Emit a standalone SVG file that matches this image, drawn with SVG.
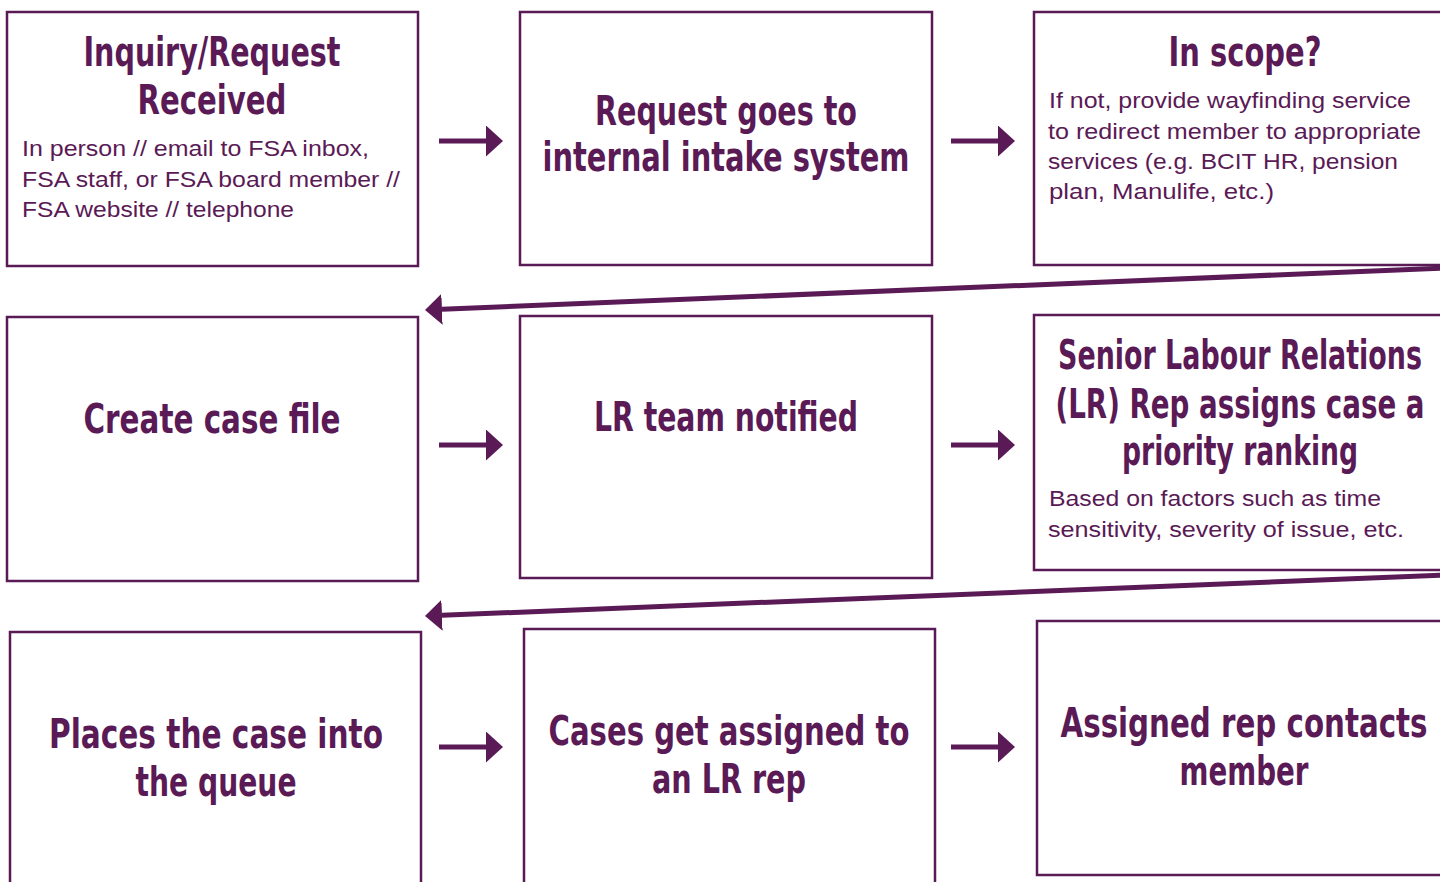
<svg xmlns="http://www.w3.org/2000/svg" width="1440" height="882" viewBox="0 0 1440 882">
<style>
.box{fill:#ffffff;stroke:#5a1a56;stroke-width:2.5}
.t{font-family:"DejaVu Sans Condensed","Liberation Sans",sans-serif;font-weight:bold;font-size:40px;fill:#5a1a56;text-anchor:middle}
.b{font-family:"Liberation Sans","DejaVu Sans Condensed",sans-serif;font-size:22px;fill:#5a1a56}
.c{stroke:#5a1a56;stroke-width:5;fill:none}
</style>
<defs>
<marker id="ah" markerUnits="userSpaceOnUse" markerWidth="18" markerHeight="31" refX="0" refY="15.5" orient="auto" viewBox="0 0 18 31">
<path d="M0,0 L17,15.5 L0,31 Z" fill="#5a1a56"/>
</marker>
</defs>
<rect width="1440" height="882" fill="#ffffff"/>
<g id="connectors">
<line class="c" x1="439" y1="141" x2="486" y2="141" marker-end="url(#ah)"/>
<line class="c" x1="951" y1="141" x2="998" y2="141" marker-end="url(#ah)"/>
<line class="c" x1="1445" y1="268" x2="442" y2="309.3" marker-end="url(#ah)"/>
<line class="c" x1="439" y1="445" x2="486" y2="445" marker-end="url(#ah)"/>
<line class="c" x1="951" y1="445" x2="998" y2="445" marker-end="url(#ah)"/>
<line class="c" x1="1445" y1="575" x2="442" y2="615.3" marker-end="url(#ah)"/>
<line class="c" x1="439" y1="747" x2="486" y2="747" marker-end="url(#ah)"/>
<line class="c" x1="951" y1="747" x2="998" y2="747" marker-end="url(#ah)"/>
</g>
<g id="n1">
<rect class="box" x="7" y="12" width="411" height="254"/>
<text class="t" x="212" y="66" textLength="257" lengthAdjust="spacingAndGlyphs">Inquiry/Request</text>
<text class="t" x="212" y="114" textLength="149" lengthAdjust="spacingAndGlyphs">Received</text>
<text class="b" x="22" y="156" textLength="347" lengthAdjust="spacingAndGlyphs">In person // email to FSA inbox,</text>
<text class="b" x="22" y="187" textLength="378" lengthAdjust="spacingAndGlyphs">FSA staff, or FSA board member //</text>
<text class="b" x="22" y="217" textLength="272" lengthAdjust="spacingAndGlyphs">FSA website // telephone</text>
</g>
<g id="n2">
<rect class="box" x="520" y="12" width="412" height="253"/>
<text class="t" x="726" y="125" textLength="262" lengthAdjust="spacingAndGlyphs">Request goes to</text>
<text class="t" x="726" y="171" textLength="367" lengthAdjust="spacingAndGlyphs">internal intake system</text>
</g>
<g id="n3">
<rect class="box" x="1034" y="12" width="420" height="253"/>
<text class="t" x="1245" y="66" textLength="153" lengthAdjust="spacingAndGlyphs">In scope?</text>
<text class="b" x="1049" y="108" textLength="362" lengthAdjust="spacingAndGlyphs">If not, provide wayfinding service</text>
<text class="b" x="1048" y="139" textLength="373" lengthAdjust="spacingAndGlyphs">to redirect member to appropriate</text>
<text class="b" x="1048" y="169" textLength="350" lengthAdjust="spacingAndGlyphs">services (e.g. BCIT HR, pension</text>
<text class="b" x="1049" y="199" textLength="225" lengthAdjust="spacingAndGlyphs">plan, Manulife, etc.)</text>
</g>
<g id="n4">
<rect class="box" x="7" y="317" width="411" height="264"/>
<text class="t" x="212" y="433" textLength="257" lengthAdjust="spacingAndGlyphs">Create case file</text>
</g>
<g id="n5">
<rect class="box" x="520" y="316" width="412" height="262"/>
<text class="t" x="726" y="431" textLength="264" lengthAdjust="spacingAndGlyphs">LR team notified</text>
</g>
<g id="n6">
<rect class="box" x="1034" y="315" width="420" height="255"/>
<text class="t" x="1240" y="369" textLength="364" lengthAdjust="spacingAndGlyphs">Senior Labour Relations</text>
<text class="t" x="1240" y="418" textLength="369" lengthAdjust="spacingAndGlyphs">(LR) Rep assigns case a</text>
<text class="t" x="1240" y="465" textLength="236" lengthAdjust="spacingAndGlyphs">priority ranking</text>
<text class="b" x="1049" y="506" textLength="332" lengthAdjust="spacingAndGlyphs">Based on factors such as time</text>
<text class="b" x="1048" y="537" textLength="356" lengthAdjust="spacingAndGlyphs">sensitivity, severity of issue, etc.</text>
</g>
<g id="n7">
<rect class="box" x="10" y="632" width="411" height="270"/>
<text class="t" x="216" y="748" textLength="334" lengthAdjust="spacingAndGlyphs">Places the case into</text>
<text class="t" x="216" y="796" textLength="161" lengthAdjust="spacingAndGlyphs">the queue</text>
</g>
<g id="n8">
<rect class="box" x="524" y="629" width="411" height="273"/>
<text class="t" x="729" y="745" textLength="361" lengthAdjust="spacingAndGlyphs">Cases get assigned to</text>
<text class="t" x="729" y="793" textLength="154" lengthAdjust="spacingAndGlyphs">an LR rep</text>
</g>
<g id="n9">
<rect class="box" x="1037" y="621" width="420" height="254"/>
<text class="t" x="1244" y="737" textLength="367" lengthAdjust="spacingAndGlyphs">Assigned rep contacts</text>
<text class="t" x="1244" y="785" textLength="129" lengthAdjust="spacingAndGlyphs">member</text>
</g>
</svg>
